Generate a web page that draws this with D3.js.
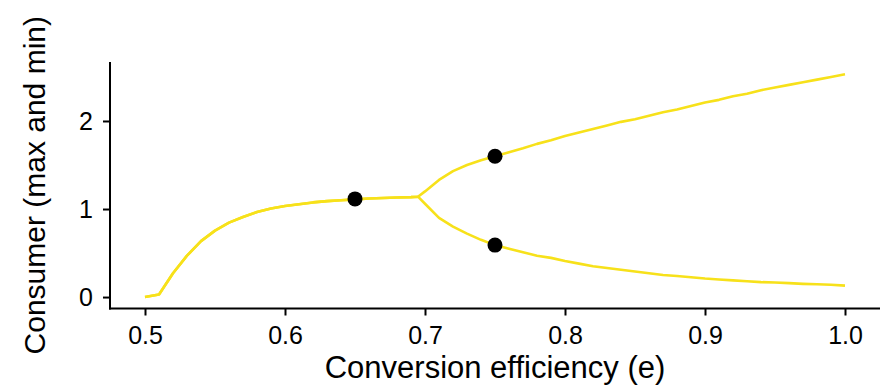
<!DOCTYPE html>
<html>
<head>
<meta charset="utf-8">
<script src="https://cdn.jsdelivr.net/npm/d3@7"></script>
<style>
  html, body { margin: 0; padding: 0; background: #ffffff; }
  svg { display: block; }
  text { font-family: "Liberation Sans", Arial, Helvetica, sans-serif; fill: #000; }
</style>
</head>
<body>
<svg id="chart" width="883" height="386"></svg>
<script>
// Conversion efficiency values
const effic = [0.50, 0.51, 0.52, 0.53, 0.54, 0.55, 0.56, 0.57, 0.58, 0.59,
               0.60, 0.61, 0.62, 0.63, 0.64, 0.65, 0.66, 0.67, 0.68, 0.69,
               0.695, 0.70, 0.71, 0.72, 0.73, 0.74, 0.75, 0.76, 0.77, 0.78, 0.79,
               0.80, 0.81, 0.82, 0.83, 0.84, 0.85, 0.86, 0.87, 0.88, 0.89,
               0.90, 0.91, 0.92, 0.93, 0.94, 0.95, 0.96, 0.97, 0.98, 0.99, 1.00];
// Consumer maximum
const consumerMax = [0.00, 0.03, 0.27, 0.47, 0.635, 0.755, 0.845, 0.91, 0.965, 1.005,
                     1.035, 1.055, 1.075, 1.09, 1.10, 1.11, 1.12, 1.125, 1.13, 1.135,
                     1.14, 1.20, 1.33, 1.43, 1.50, 1.555, 1.60, 1.645, 1.69, 1.74, 1.78,
                     1.83, 1.87, 1.91, 1.95, 1.99, 2.02, 2.06, 2.10, 2.13, 2.17,
                     2.21, 2.24, 2.28, 2.31, 2.35, 2.38, 2.41, 2.44, 2.47, 2.50, 2.53];
// Consumer minimum
const consumerMin = [0.00, 0.03, 0.27, 0.47, 0.635, 0.755, 0.845, 0.91, 0.965, 1.005,
                     1.035, 1.055, 1.075, 1.09, 1.10, 1.11, 1.12, 1.125, 1.13, 1.135,
                     1.14, 1.06, 0.90, 0.80, 0.72, 0.65, 0.59, 0.55, 0.51, 0.47, 0.445,
                     0.41, 0.38, 0.35, 0.33, 0.31, 0.29, 0.27, 0.25, 0.24, 0.225,
                     0.21, 0.20, 0.19, 0.18, 0.17, 0.165, 0.158, 0.15, 0.145, 0.14, 0.13];
// Highlighted points
const pointE = [0.65, 0.75, 0.75];
const pointC = [1.115, 1.60, 0.59];

const xTicks = [0.5, 0.6, 0.7, 0.8, 0.9, 1.0];
const yTicks = [0, 1, 2];
const xTitle = "Conversion efficiency (e)";
const yTitle = "Consumer (max and min)";

const svg = d3.select("#chart");
const panel = { left: 110, right: 880, top: 62, bottom: 308.5 };

const x = d3.scaleLinear().domain([0.475, 1.025]).range([panel.left, panel.right]);
const y = d3.scaleLinear().domain([-0.13, 2.67]).range([panel.bottom, panel.top]);

const lineColor = "#F7E11A";

const seriesMax = effic.map((e, i) => [e, consumerMax[i]]);
const seriesMin = effic.map((e, i) => [e, consumerMin[i]]);
const line = d3.line().x(d => x(d[0])).y(d => y(d[1]));

[seriesMin, seriesMax].forEach(s => {
  svg.append("path")
    .datum(s)
    .attr("d", line)
    .attr("fill", "none")
    .attr("stroke", lineColor)
    .attr("stroke-width", 2.6)
    .attr("stroke-linejoin", "round");
});

svg.selectAll("circle.pt")
  .data(pointE.map((e, i) => [e, pointC[i]]))
  .enter().append("circle")
  .attr("class", "pt")
  .attr("cx", d => x(d[0]))
  .attr("cy", d => y(d[1]))
  .attr("r", 7.5)
  .attr("fill", "#000");

// Axes
const xAxis = d3.axisBottom(x).tickValues(xTicks).tickFormat(d3.format(".1f")).tickSize(7).tickSizeOuter(0);
const yAxis = d3.axisLeft(y).tickValues(yTicks).tickFormat(d3.format("d")).tickSize(7).tickSizeOuter(0);

const gx = svg.append("g").attr("transform", `translate(0,${panel.bottom})`).call(xAxis);
const gy = svg.append("g").attr("transform", `translate(${panel.left},0)`).call(yAxis);

[gx, gy].forEach(g => {
  g.select(".domain").attr("stroke", "#000").attr("stroke-width", 2);
  g.selectAll(".tick line").attr("stroke", "#000").attr("stroke-width", 2);
  g.selectAll(".tick text").attr("font-size", 25).attr("fill", "#000")
    .style("font-family", '"Liberation Sans", Arial, sans-serif');
});
gx.select(".domain").attr("d", `M${panel.left - 1},0H${panel.right}`);
gy.select(".domain").attr("d", `M0,${panel.top}V${panel.bottom + 1}`);
gx.selectAll(".tick text").attr("y", 18).attr("dy", "0.71em");
gy.selectAll(".tick text").attr("x", -17).attr("dy", "0.35em");

svg.append("text")
  .attr("x", (panel.left + panel.right) / 2)
  .attr("y", 378)
  .attr("text-anchor", "middle")
  .attr("font-size", 31)
  .text(xTitle);

svg.append("text")
  .attr("transform", `translate(45,${(panel.top + panel.bottom) / 2}) rotate(-90)`)
  .attr("text-anchor", "middle")
  .attr("font-size", 30)
  .text(yTitle);
</script>
</body>
</html>
